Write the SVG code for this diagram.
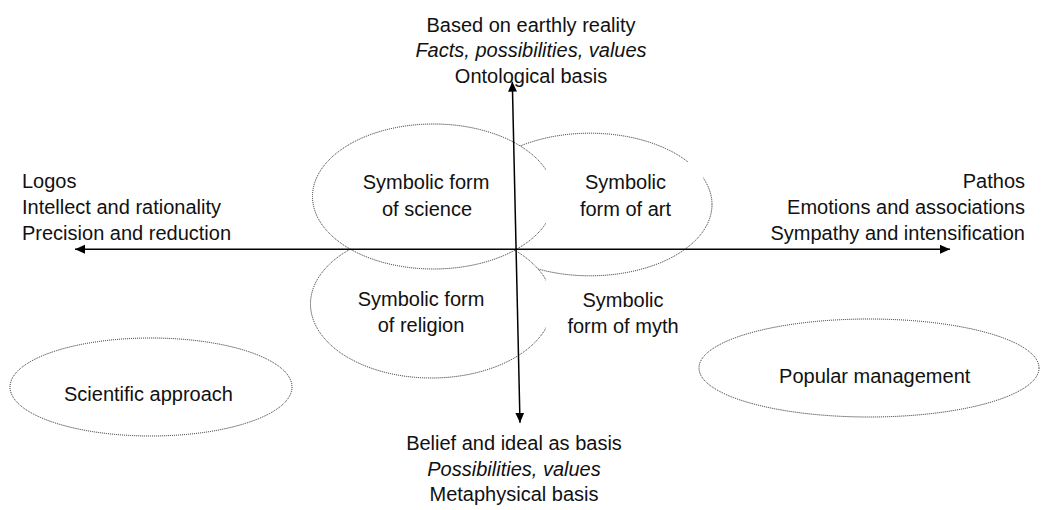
<svg xmlns="http://www.w3.org/2000/svg" width="1041" height="510" viewBox="0 0 1041 510">
  <style>
    text { font-family: "Liberation Sans", Arial, sans-serif; font-size: 20px; fill: #111; }
    .c { text-anchor: middle; }
    .e { text-anchor: end; }
    .i { font-style: italic; }
    .ell { fill: #fff; stroke: #222; stroke-width: 1; stroke-dasharray: 1 1; }
    .box { fill: #fff; stroke: none; }
    .axis { stroke: #000; stroke-width: 1.5; fill: none; marker-start: url(#arr); marker-end: url(#arr); }
  </style>
  <defs>
    <marker id="arr" markerUnits="userSpaceOnUse" markerWidth="11" markerHeight="10" refX="10" refY="4.5" orient="auto-start-reverse" viewBox="0 0 11 10">
      <path d="M0,0 L10,4.5 L0,9 z" fill="#000"/>
    </marker>
  </defs>
  <rect width="1041" height="510" fill="#fff"/>

  <g id="art-ellipse"><ellipse class="ell" cx="590" cy="204.5" rx="122" ry="71.3"/></g>
  <g id="religion-ellipse"><ellipse class="ell" cx="431.5" cy="304" rx="121" ry="74"/></g>
  <g id="science-ellipse"><ellipse class="ell" cx="433.5" cy="196.5" rx="121" ry="72.5"/></g>

  <g id="science">
    <text class="c" x="426" y="189">Symbolic form</text>
    <text class="c" x="427" y="216">of science</text>
  </g>
  <g id="art">
    <rect class="box" x="546" y="162" width="157" height="62"/>
    <text class="c" x="625.5" y="189">Symbolic</text>
    <text class="c" x="625.5" y="215.7">form of art</text>
  </g>
  <g id="religion">
    <text class="c" x="421" y="305.7">Symbolic form</text>
    <text class="c" x="421" y="332.3">of religion</text>
  </g>
  <g id="myth">
    <rect class="box" x="546" y="280" width="154" height="62"/>
    <text class="c" x="623" y="306.7">Symbolic</text>
    <text class="c" x="623" y="333.3">form of myth</text>
  </g>

  <g id="scientific-approach">
    <ellipse class="ell" cx="151" cy="387" rx="141" ry="49"/>
    <text class="c" x="148.5" y="400.7">Scientific approach</text>
  </g>
  <g id="popular-management">
    <ellipse class="ell" cx="869" cy="368" rx="170" ry="49"/>
    <text class="c" x="874.7" y="382.7">Popular management</text>
  </g>

  <g id="top-label">
    <text class="c" x="531" y="31.7">Based on earthly reality</text>
    <text class="c i" x="531" y="57">Facts, possibilities, values</text>
    <text class="c" x="531" y="83">Ontological basis</text>
  </g>
  <g id="bottom-label">
    <text class="c" x="514" y="450">Belief and ideal as basis</text>
    <text class="c i" x="514" y="475.5">Possibilities, values</text>
    <text class="c" x="514" y="501">Metaphysical basis</text>
  </g>
  <g id="left-label">
    <text x="22" y="188">Logos</text>
    <text x="22" y="214">Intellect and rationality</text>
    <text x="22" y="240">Precision and reduction</text>
  </g>
  <g id="right-label">
    <text class="e" x="1025" y="188">Pathos</text>
    <text class="e" x="1025" y="214">Emotions and associations</text>
    <text class="e" x="1025" y="240">Sympathy and intensification</text>
  </g>

  <g id="connectors">
    <line class="axis" x1="75" y1="249.3" x2="950" y2="249.3"/>
    <line class="axis" x1="512.3" y1="81.7" x2="520" y2="422.7"/>
  </g>
</svg>
